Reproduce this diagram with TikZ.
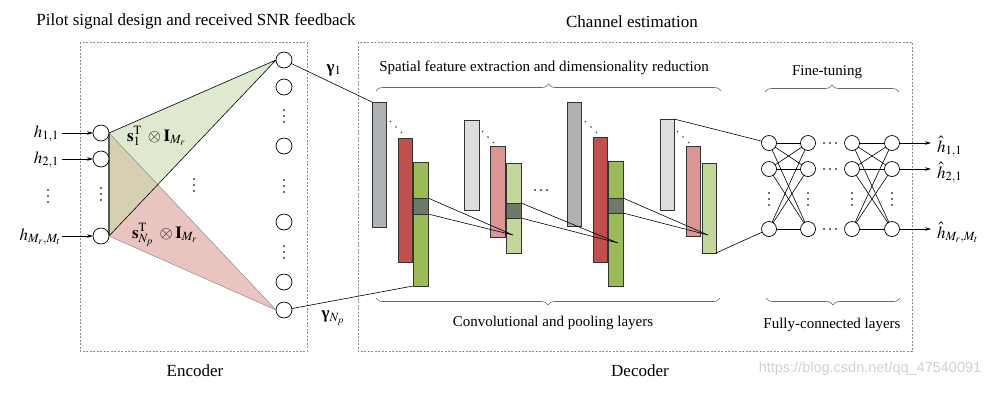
\documentclass[tikz,border=0pt]{standalone}
\usepackage{amsmath}
\usepackage{mathptmx}
\usepackage[no-math]{fontspec}
\setmainfont{Liberation Serif}
\newfontfamily\wmfont{Liberation Sans}
\usetikzlibrary{decorations.pathreplacing,arrows.meta,backgrounds}
\definecolor{trigreen}{HTML}{DFE9CF}
\definecolor{trired}{HTML}{EAC4C0}
\definecolor{triolive}{HTML}{D6CFB2}
\definecolor{bgray}{HTML}{ADB1B4}
\definecolor{bred}{HTML}{C0504D}
\definecolor{bgreen}{HTML}{9BBB59}
\definecolor{lgray}{HTML}{DCDDDF}
\definecolor{lred}{HTML}{D99694}
\definecolor{lgreen}{HTML}{C3D69B}
\definecolor{bsq}{HTML}{6E7A67}
\begin{document}
\begin{tikzpicture}[x=1pt,y=-1pt,
  every node/.style={inner sep=0pt,outer sep=0pt},
  enc/.style={circle,draw,line width=0.7pt,minimum size=16pt,fill=white},
  fcn/.style={circle,draw,line width=0.7pt,minimum size=15pt,fill=white},
  blk/.style={draw=black!80,line width=0.6pt,minimum width=14pt,anchor=north west},
  dbox/.style={draw=black!45,dash pattern=on 2pt off 1.5pt,line width=0.5pt},
  title/.style={font=\fontsize{17}{20}\selectfont},
  sublab/.style={font=\fontsize{15}{18}\selectfont},
  mlab/.style={font=\fontsize{17}{20}\selectfont},
  bracedeco/.style={draw=black!60,line width=0.6pt,decorate,decoration={brace,amplitude=7pt}},
  arr/.style={-{Stealth[length=6pt,width=3.5pt]},line width=0.6pt},
  conn/.style={line width=0.6pt},
  vdots/.pic={\foreach \t in {-6,0,6} \fill[black!75] (0,\t) circle[radius=1.1];},
  hdots/.pic={\foreach \t in {-6,0,6} \fill[black!75] (\t,0) circle[radius=1.1];},
  ddots/.pic={\foreach \t in {-5.5,0,5.5} \fill[black!75] (\t,\t) circle[radius=0.9];}
]
\useasboundingbox (0,0) rectangle (999,392);

% ---------- dashed boxes ----------
\draw[dbox] (80,42) rectangle (307,351);
\draw[dbox] (358,42) rectangle (912,351);

% ---------- titles ----------
\node[title] (t1) at (196,21) {Pilot signal design and received SNR feedback};
\node[title] (t2) at (632,22) {Channel estimation};
\node[title] (t3) at (195,371) {Encoder};
\node[title] (t4) at (640,371) {Decoder};
\node[font=\wmfont\fontsize{14.5}{16}\selectfont,text=black!18] (wm) at (870,369) {https://blog.csdn.net/qq\_47540091};

% ---------- encoder ----------
\node[enc] (i1) at (101,133) {};
\node[enc] (i2) at (101,159) {};
\node[enc] (iN) at (101,236) {};
\node[enc] (o1) at (284,60) {};
\node[enc] (o2) at (284,87) {};
\node[enc] (o3) at (284,146) {};
\node[enc] (o4) at (284,222) {};
\node[enc] (o5) at (284,282) {};
\node[enc] (o6) at (284,310) {};

\begin{scope}[on background layer]
  \coordinate (X) at (intersection of i1.east--o6.west and iN.east--o1.west);
  \fill[trigreen] (i1.east) -- (o1.west) -- (iN.east) -- cycle;
  \fill[trired] (i1.east) -- (o6.west) -- (iN.east) -- cycle;
  \fill[triolive] (i1.east) -- (X) -- (iN.east) -- cycle;
  \draw[black!45,line width=0.5pt] (i1.east) -- (o6.west) -- (iN.east);
  \draw[black,line width=0.6pt] (i1.east) -- (o1.west) -- (iN.east);
  \draw[black!65,line width=1.2pt] (i1.east) -- (iN.east);
\end{scope}

\node[mlab,anchor=base east] (h1) at (59,137) {$h_{1,1}$};
\node[mlab,anchor=base east] (h2) at (59,163) {$h_{2,1}$};
\node[mlab,anchor=base east] (hN) at (61,240) {$h_{M_r,M_t}$};
\draw[arr] (62,133) coordinate (a1) -- (i1.west);
\draw[arr] (62,159) coordinate (a2) -- (i2.west);
\draw[arr] (62,236) coordinate (aN) -- (iN.west);

\node[mlab,anchor=base west] (s1) at (127,141) {$\mathbf{s}_1^{\mathrm{T}}\;\otimes\mathbf{I}_{M_r}$};
\node[mlab,anchor=base west] (sN) at (132,238) {$\mathbf{s}_{N_p}^{\mathrm{T}}\;\otimes\mathbf{I}_{M_r}$};

\pic at (48,196) {vdots};
\pic at (101,194) {vdots};
\pic at (194,185) {vdots};
\pic at (284,116) {vdots};
\pic at (284,186) {vdots};
\pic at (284,252) {vdots};

\node[mlab] (g1lab) at (334,70) {{\bfseries γ}$_1$};
\node[mlab] (gNlab) at (333,318) {{\bfseries γ}$_{N_p}$};

% ---------- CNN blocks ----------
\node[blk,fill=bgray,minimum height=125pt] (A1) at (372,102) {};
\node[blk,fill=bred,minimum height=124pt] (B1) at (398,138) {};
\node[blk,fill=bgreen,minimum width=15pt,minimum height=124pt] (C1) at (413,162) {};
\node[blk,fill=bsq,minimum width=15pt,minimum height=16pt] (S1) at (413,198) {};

\node[blk,fill=lgray,minimum width=15pt,minimum height=90pt] (A2) at (464,120) {};
\node[blk,fill=lred,minimum width=15pt,minimum height=91pt] (B2) at (490,146) {};
\node[blk,fill=lgreen,minimum width=15pt,minimum height=90pt] (C2) at (506,163) {};
\node[blk,fill=bsq,minimum width=15pt,minimum height=15pt] (S2) at (506,203) {};

\node[blk,fill=bgray,minimum height=124pt] (A3) at (567,102) {};
\node[blk,fill=bred,minimum height=125pt] (B3) at (593,137) {};
\node[blk,fill=bgreen,minimum width=15pt,minimum height=125pt] (C3) at (608,161) {};
\node[blk,fill=bsq,minimum width=15pt,minimum height=15pt] (S3) at (608,198) {};

\node[blk,fill=lgray,minimum height=91pt] (A4) at (660,119) {};
\node[blk,fill=lred,minimum height=90pt] (B4) at (686,146) {};
\node[blk,fill=lgreen,minimum height=90pt] (C4) at (702,163) {};

\pic at (396,127) {ddots};
\pic at (488,137) {ddots};
\pic at (591,127) {ddots};
\pic at (683,137) {ddots};
\pic at (541,190) {hdots};

\coordinate (k1) at (513,235);
\coordinate (k2) at (618,243);
\coordinate (k3) at (708,235);
\draw[conn] (S1.north east) -- (k1) -- (S1.south east);
\draw[conn] (S2.north east) -- (k2) -- (S2.south east);
\draw[conn] (S3.north east) -- (k3) -- (S3.south east);

\draw[conn] (o1) -- (A1.north west);
\draw[conn] (o6) -- (C1.south west);

% ---------- fully connected ----------
\foreach \c/\x in {1/769,2/808,3/852,4/892}{
  \node[fcn] (f\c1) at (\x,143) {};
  \node[fcn] (f\c2) at (\x,169) {};
  \node[fcn] (f\c3) at (\x,229) {};
  \pic at (\x,199) {vdots};
}
\foreach \a in {1,2,3}{
  \foreach \b in {1,2,3}{
    \draw[conn] (f1\a) -- (f2\b);
    \draw[conn] (f3\a) -- (f4\b);
  }
}
\pic at (830,143) {hdots};
\pic at (830,169) {hdots};
\pic at (830,229) {hdots};

\draw[conn] (A4.north east) -- (f11);
\draw[conn] (C4.south east) -- (f13);

\coordinate (e1) at (931,143);
\coordinate (e2) at (931,169);
\coordinate (e3) at (931,229);
\draw[arr] (f41) -- (e1);
\draw[arr] (f42) -- (e2);
\draw[arr] (f43) -- (e3);
\node[mlab,anchor=base west] (y1) at (937,152) {$\hat{h}_{1,1}$};
\node[mlab,anchor=base west] (y2) at (937,178) {$\hat{h}_{2,1}$};
\node[mlab,anchor=base west] (y3) at (937,238) {$\hat{h}_{M_r,M_t}$};

% ---------- braces ----------
\draw[bracedeco] (376,91) -- (721,91);
\node[sublab] (bl1) at (544,68) {Spatial feature extraction and dimensionality reduction};
\draw[bracedeco] (765,92) -- (899,92);
\node[sublab] (bl2) at (827,72) {Fine-tuning};
\draw[bracedeco] (720,298) -- (376,298);
\node[sublab] (bl3) at (553,323) {Convolutional and pooling layers};
\draw[bracedeco] (900,298) -- (766,298);
\node[sublab] (bl4) at (832,325) {Fully-connected layers};
\end{tikzpicture}
\end{document}
